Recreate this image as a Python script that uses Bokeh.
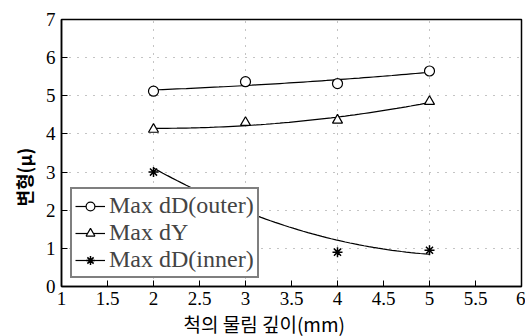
import numpy as np
from bokeh.plotting import figure
from bokeh.models import Range1d, FixedTicker, Legend, LegendItem, Title
from bokeh.embed import file_html
from bokeh.resources import INLINE

depth = [2, 3, 4, 5]
outer = [5.12, 5.37, 5.32, 5.65]
dy = [4.12, 4.30, 4.36, 4.85]
inner = [3.00, 2.28, 0.90, 0.95]
x_ticks = [1, 1.5, 2, 2.5, 3, 3.5, 4, 4.5, 5, 5.5, 6]
y_ticks = [0, 1, 2, 3, 4, 5, 6, 7]
x_title = "척의 물림 깊이(mm)"
y_title = "변형(μ)"

p = figure(width=525, height=336, output_backend="svg", toolbar_location=None,
           x_range=Range1d(1, 6), y_range=Range1d(0, 7),
           min_border_left=61, min_border_right=4, min_border_top=19, min_border_bottom=50)
p.outline_line_color = "black"
p.outline_line_width = 1.5

p.xaxis.major_label_text_font = "Liberation Serif"
p.yaxis.major_label_text_font = "Liberation Serif"
p.xaxis.major_label_text_font_size = "19px"
p.yaxis.major_label_text_font_size = "19px"
p.axis.major_label_text_color = "black"
p.axis.axis_line_color = "black"
p.axis.axis_line_width = 1.5
p.axis.major_tick_in = 6
p.axis.major_tick_out = 0
p.axis.minor_tick_line_color = None
p.axis.major_tick_line_color = "black"

p.xaxis.ticker = FixedTicker(ticks=x_ticks)
p.yaxis.ticker = FixedTicker(ticks=y_ticks)
p.xaxis.major_label_overrides = {1: "1", 2: "2", 3: "3", 4: "4", 5: "5", 6: "6"}
p.xaxis.major_label_standoff = 5
p.yaxis.major_label_standoff = 6

p.xgrid.ticker = FixedTicker(ticks=[2, 3, 4, 5])
p.ygrid.ticker = FixedTicker(ticks=[1, 2, 3, 4, 5, 6])
p.grid.grid_line_color = "#888888"
p.grid.grid_line_dash = "1 7"
p.grid.grid_line_width = 1

xs = np.linspace(2, 5, 60)
def fit(y):
    c = np.polyfit(depth, y, 2)
    return np.polyval(c, xs)

l1 = p.line(xs, fit(outer), line_color="black", line_width=1.2)
m1 = p.scatter(depth, outer, marker="circle", size=10, fill_color="white", line_color="black", line_width=1.2)
l2 = p.line(xs, fit(dy), line_color="black", line_width=1.2)
m2 = p.scatter(depth, dy, marker="triangle", size=10, fill_color="white", line_color="black", line_width=1.2)
l3 = p.line(xs, fit(inner), line_color="black", line_width=1.2)
m3 = p.scatter(depth, inner, marker="asterisk", size=10, line_color="black", line_width=1.5)

legend = Legend(items=[
    LegendItem(label="Max dD(outer)", renderers=[l1, m1]),
    LegendItem(label="Max dY", renderers=[l2, m2]),
    LegendItem(label="Max dD(inner)", renderers=[l3, m3]),
], location=(9, 8))
legend.margin = 0
legend.padding = 3
legend.spacing = 0
legend.glyph_width = 30
legend.glyph_height = 22
legend.label_standoff = 4
legend.label_text_font = "Liberation Serif"
legend.label_text_font_size = "24px"
legend.label_height = 22
legend.border_line_color = "black"
legend.border_line_width = 2
legend.background_fill_alpha = 1
p.add_layout(legend, "center")

p.add_layout(Title(text=x_title, align="left", offset=122, standoff=0,
                   text_font="Noto Sans CJK KR", text_font_size="19px",
                   text_font_style="normal", text_color="black"), "below")
p.add_layout(Title(text=y_title, align="left", offset=80, standoff=12,
                   text_font="Noto Sans CJK KR", text_font_size="18px",
                   text_font_style="bold", text_color="black"), "left")

open("out.html", "w").write(file_html(p, INLINE))
